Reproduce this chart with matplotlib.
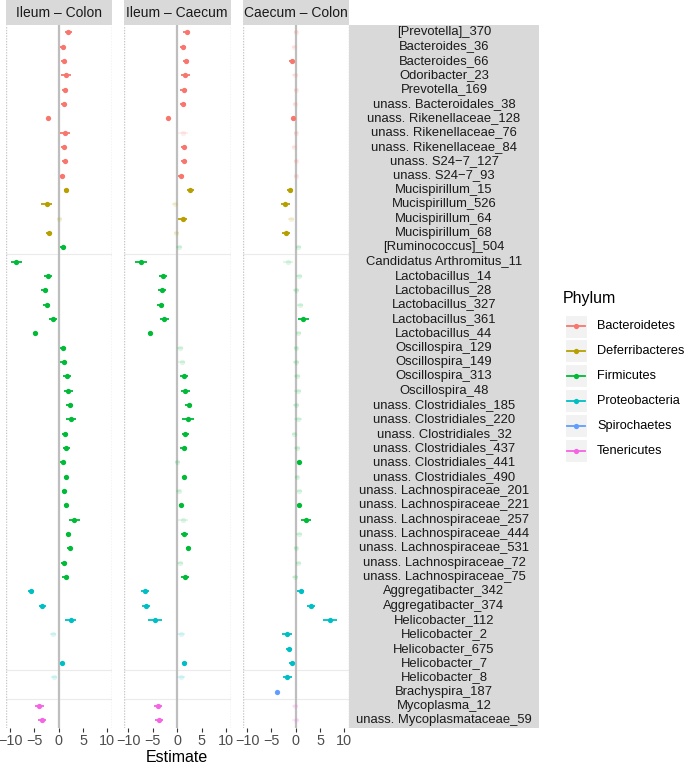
import numpy as np
import matplotlib
matplotlib.use("Agg")
import matplotlib.pyplot as plt
from matplotlib.patches import Rectangle

plt.rcParams['font.family'] = ['Liberation Sans', 'DejaVu Sans']

taxa = ["[Prevotella]_370", "Bacteroides_36", "Bacteroides_66", "Odoribacter_23",
        "Prevotella_169", "unass. Bacteroidales_38", "unass. Rikenellaceae_128",
        "unass. Rikenellaceae_76", "unass. Rikenellaceae_84", "unass. S24\u22127_127",
        "unass. S24\u22127_93", "Mucispirillum_15", "Mucispirillum_526", "Mucispirillum_64",
        "Mucispirillum_68", "[Ruminococcus]_504", "Candidatus Arthromitus_11",
        "Lactobacillus_14", "Lactobacillus_28", "Lactobacillus_327", "Lactobacillus_361",
        "Lactobacillus_44", "Oscillospira_129", "Oscillospira_149", "Oscillospira_313",
        "Oscillospira_48", "unass. Clostridiales_185", "unass. Clostridiales_220",
        "unass. Clostridiales_32", "unass. Clostridiales_437", "unass. Clostridiales_441",
        "unass. Clostridiales_490", "unass. Lachnospiraceae_201", "unass. Lachnospiraceae_221",
        "unass. Lachnospiraceae_257", "unass. Lachnospiraceae_444", "unass. Lachnospiraceae_531",
        "unass. Lachnospiraceae_72", "unass. Lachnospiraceae_75", "Aggregatibacter_342",
        "Aggregatibacter_374", "Helicobacter_112", "Helicobacter_2", "Helicobacter_675",
        "Helicobacter_7", "Helicobacter_8", "Brachyspira_187", "Mycoplasma_12",
        "unass. Mycoplasmataceae_59"]

phyla = ["Bacteroidetes", "Deferribacteres", "Firmicutes", "Proteobacteria",
         "Spirochaetes", "Tenericutes"]
phylum_colors = ["#F8766D", "#B79F00", "#00BA38", "#00BFC4", "#619CFF", "#F564E3"]
# phylum index for each taxon
taxon_phylum = [0] * 11 + [1] * 4 + [2] * 24 + [3] * 7 + [4] + [5] * 2

comparisons = ["Ileum \u2013 Colon", "Ileum \u2013 Caecum", "Caecum \u2013 Colon"]

nan = np.nan
est_ileum_colon = [2.0, 0.8, 1.0, 1.5, 1.3, 1.0, -2.1, 1.3, 1.0, 1.2, 0.75,
                   1.6, -2.5, 0.15, -2.0,
                   0.9, -8.7, -2.25, -2.9, -2.5, -1.15, -4.9, 0.9, 1.0, 1.7, 2.0,
                   2.3, 2.5, 1.35, 1.6, 0.8, 1.5, 1.15, 1.4, 3.2, 2.0, 2.3, 1.15, 1.4,
                   -5.7, -3.35, 2.45, -1.1, nan, 0.7, -1.0,
                   nan, -4.0, -3.5]
err_ileum_colon = [0.75, 0.5, 0.55, 0.95, 0.6, 0.55, 0.3, 1.1, 0.45, 0.6, 0.55,
                   0.6, 1.1, 0.6, 0.6,
                   0.6, 1.2, 0.8, 0.8, 0.75, 0.8, 0.35, 0.7, 0.8, 0.85, 0.95,
                   0.7, 1.1, 0.6, 0.65, 0.45, 0.35, 0.55, 0.4, 1.1, 0.6, 0.5, 0.6, 0.75,
                   0.7, 0.65, 1.2, 0.6, 0.6, 0.45, 0.6,
                   0.5, 0.9, 0.8]
sig_ileum_colon = [1] * 13 + [0] + [1] * 28 + [0, 0, 1, 0, 0, 1, 1]

est_ileum_caecum = [1.9, 1.1, 1.85, 1.65, 1.3, 1.2, -1.8, 1.25, 1.3, 1.3, 0.8,
                    2.7, -0.55, 1.1, -0.15,
                    0.4, -7.45, -2.9, -3.1, -3.4, -2.6, -5.5, 0.6, 0.9, 1.4, 1.65,
                    2.35, 2.15, 1.65, 1.3, 0.0, 1.3, 0.35, 0.75, 1.2, 1.4, 2.3, 0.55, 1.6,
                    -6.55, -6.35, -4.5, 0.8, nan, 1.45, 0.8,
                    nan, -3.9, -3.65]
err_ileum_caecum = [0.7, 0.6, 0.6, 0.95, 0.65, 0.6, 0.3, 1.0, 0.55, 0.6, 0.6,
                    0.7, 0.6, 0.9, 0.5,
                    0.6, 1.2, 0.85, 0.9, 0.8, 1.0, 0.4, 0.6, 0.7, 0.8, 0.95,
                    0.7, 1.2, 0.7, 0.75, 0.5, 0.4, 0.5, 0.45, 1.0, 0.7, 0.5, 0.6, 0.85,
                    0.8, 0.9, 1.4, 0.8, 0.6, 0.55, 0.8,
                    0.5, 0.9, 0.8]
sig_ileum_caecum = [1, 1, 1, 1, 1, 1, 1, 0, 1, 1, 1, 1, 0, 1, 0,
                    0, 1, 1, 1, 1, 1, 1, 0, 0, 1, 1, 1, 1, 1, 1, 0, 1, 0, 1, 0, 1, 1, 0, 1,
                    1, 1, 1, 0, 0, 1, 0, 0, 1, 1]

est_caecum_colon = [0.05, -0.3, -0.85, -0.15, 0.05, -0.1, -0.5, 0.05, -0.35, 0.0, 0.05,
                    -1.2, -2.15, -1.05, -2.0,
                    0.55, -1.6, 0.75, 0.0, 0.9, 1.6, 0.55, 0.05, 0.05, 0.3, 0.4,
                    0.05, 0.5, -0.35, 0.3, 0.7, 0.35, 0.7, 0.6, 2.1, 0.7, 0.05, 0.55, -0.15,
                    1.05, 3.2, 7.05, -1.8, -1.3, -0.7, -1.75,
                    -3.75, -0.2, 0.0]
err_caecum_colon = [0.4, 0.4, 0.55, 0.6, 0.5, 0.45, 0.3, 0.5, 0.4, 0.4, 0.5,
                    0.6, 0.9, 0.6, 0.75,
                    0.5, 1.0, 0.6, 0.6, 0.6, 1.1, 0.5, 0.5, 0.6, 0.6, 0.75,
                    0.6, 0.8, 0.5, 0.6, 0.4, 0.4, 0.5, 0.4, 1.0, 0.6, 0.4, 0.5, 0.6,
                    0.75, 0.8, 1.4, 1.0, 0.6, 0.6, 0.9,
                    0.4, 0.6, 0.7]
sig_caecum_colon = [0, 0, 1, 0, 0, 0, 1, 0, 0, 0, 0, 1, 1, 0, 1,
                    0, 0, 0, 0, 0, 1, 0, 0, 0, 0, 0, 0, 0, 0, 0, 1, 0, 0, 1, 1, 0, 0, 0, 0,
                    1, 1, 1, 1, 1, 1, 1, 1, 0, 0]

estimates = [est_ileum_colon, est_ileum_caecum, est_caecum_colon]
errors = [err_ileum_colon, err_ileum_caecum, err_caecum_colon]
signif = [sig_ileum_colon, sig_ileum_caecum, sig_caecum_colon]

W, H = 685, 764
fig = plt.figure(figsize=(W / 100, H / 100), dpi=100)


def frac(x0, y0, x1, y1):
    return [x0 / W, 1 - y1 / H, (x1 - x0) / W, (y1 - y0) / H]


panel_x = [(5.7, 111.7), (123.7, 230.7), (242.7, 348.7)]
top, bottom = 25, 727.5
n = len(taxa)

for k, (x0, x1) in enumerate(panel_x):
    ax = fig.add_axes(frac(x0, top, x1, bottom))
    ax.set_xlim(-10.9, 10.9)
    ax.set_ylim(n - 0.5, -0.5)
    for s in ax.spines.values():
        s.set_visible(False)
    ax.axvline(-10.9, color="#C8C8C8", lw=1.0, ls=(0, (1, 1)))
    ax.axvline(10.9, color="#C8C8C8", lw=1.0, ls=(0, (1, 1)))
    ax.axvline(0, color="#BEBEBE", lw=1.6, zorder=1)
    for yb in [15.5, 44.5, 46.5]:
        ax.axhline(yb, color="#EBEBEB", lw=0.8, zorder=0)
    for i in range(n):
        v = estimates[k][i]
        if np.isnan(v):
            continue
        c = phylum_colors[taxon_phylum[i]]
        a = 1.0 if signif[k][i] else 0.12
        e = errors[k][i]
        ax.plot([v - e, v + e], [i, i], color=c, lw=1.3, alpha=a, zorder=2,
                solid_capstyle="butt")
        ax.plot(v, i, "o", color=c, ms=3.8, mew=0, alpha=a, zorder=3)
    ax.set_yticks([])
    ax.set_xticks([-10, -5, 0, 5, 10])
    ax.set_xticklabels(["\u221210", "\u22125", "0", "5", "10"])
    ax.tick_params(axis="x", length=3, width=0.8, color="#333333",
                   labelsize=10.4, labelcolor="#4D4D4D", pad=1.5)
    # top strip
    sax = fig.add_axes(frac(x0, 0.5, x1, top))
    sax.set_facecolor("#D9D9D9")
    sax.set_xticks([])
    sax.set_yticks([])
    for s in sax.spines.values():
        s.set_visible(False)
    sax.text(0.5, 0.5, comparisons[k], ha="center", va="center",
             fontsize=10, color="#1A1A1A", transform=sax.transAxes)

# right strip with taxon labels
rax = fig.add_axes(frac(349, top, 539, bottom))
rax.set_facecolor("#D9D9D9")
rax.set_xlim(0, 1)
rax.set_ylim(n - 0.5, -0.5)
rax.set_xticks([])
rax.set_yticks([])
for s in rax.spines.values():
    s.set_visible(False)
for i, t in enumerate(taxa):
    rax.text(0.5, i, t, ha="center", va="center", fontsize=9.4, color="#1A1A1A")

fig.text(177 / W, 1 - 757 / H, "Estimate", ha="center", va="center",
         fontsize=11.5, color="#000000")

# legend
lax = fig.add_axes([0, 0, 1, 1])
lax.set_xlim(0, W)
lax.set_ylim(H, 0)
lax.axis("off")
lax.patch.set_alpha(0)
lax.text(563, 298, "Phylum", ha="left", va="center", fontsize=11.5)
for j, (p, c) in enumerate(zip(phyla, phylum_colors)):
    yc = 326 + j * 24.9
    lax.add_patch(Rectangle((565, yc - 11.5), 22, 23, facecolor="#F2F2F2",
                            edgecolor="white", lw=0.8))
    lax.plot([567, 585], [yc, yc], color=c, lw=1.3)
    lax.plot(576, yc, "o", color=c, ms=3.8, mew=0)
    lax.text(597, yc, p, ha="left", va="center", fontsize=9.2)

fig.savefig("out.png", dpi=100)
